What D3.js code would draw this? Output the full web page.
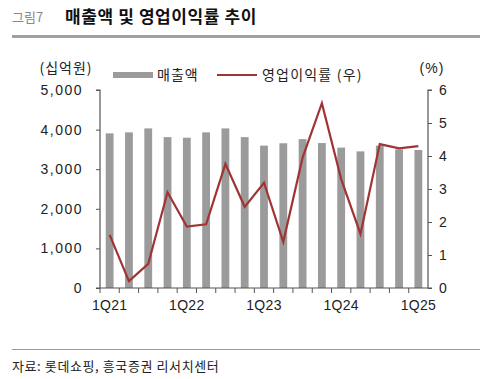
<!DOCTYPE html>
<html><head><meta charset="utf-8">
<script src="https://cdn.jsdelivr.net/npm/d3@7"></script>
<style>
html,body{margin:0;padding:0;background:#fff;}
svg{display:block;}
</style></head>
<body>
<script>
const categories = ["1Q21","2Q21","3Q21","4Q21","1Q22","2Q22","3Q22","4Q22","1Q23","2Q23","3Q23","4Q23","1Q24","2Q24","3Q24","4Q24","1Q25"];
const sales = [3905,3930,4030,3810,3795,3930,4030,3810,3595,3655,3760,3660,3545,3450,3595,3500,3485];
const opMargin = [1.61,0.21,0.73,2.90,1.86,1.93,3.76,2.46,3.19,1.40,3.95,5.60,3.30,1.64,4.36,4.23,4.30];
const leftTicks = [0,1000,2000,3000,4000,5000];
const rightTicks = [0,1,2,3,4,5,6];
const xLabels = ["1Q21","1Q22","1Q23","1Q24","1Q25"];

const W = 480, H = 379;
const svg = d3.select("body").append("svg").attr("width", W).attr("height", H);
const latin = "'Liberation Sans', Arial, sans-serif";
const kr = "'Noto Sans CJK KR', 'Noto Sans', sans-serif";

// Header
svg.append("text").attr("x", 12).attr("y", 22).attr("font-family", kr).attr("font-size", 13)
  .attr("fill", "#888").text("그림7");
svg.append("text").attr("x", 65).attr("y", 23).attr("font-family", kr).attr("font-size", 17)
  .attr("font-weight", "bold").attr("letter-spacing", 0.6).attr("fill", "#111").text("매출액 및 영업이익률 추이");
svg.append("rect").attr("x", 12).attr("y", 35).attr("width", 468).attr("height", 3).attr("fill", "#a0a0a0");

// Footer
svg.append("rect").attr("x", 12).attr("y", 349).attr("width", 468).attr("height", 1).attr("fill", "#999");
svg.append("text").attr("x", 12).attr("y", 371).attr("font-family", kr).attr("font-size", 13)
  .attr("letter-spacing", 0.6).attr("fill", "#222").text("자료: 롯데쇼핑, 흥국증권 리서치센터");

const x0 = 100, x1 = 428, yTop = 90, yBot = 288;
const xb = d3.scaleBand().domain(categories).range([x0, x1]);
const yL = d3.scaleLinear().domain([0, 5000]).range([yBot, yTop]);
const yR = d3.scaleLinear().domain([0, 6]).range([yBot, yTop]);

// bars
svg.append("g").selectAll("rect").data(categories).join("rect")
  .attr("x", (d) => xb(d) + xb.bandwidth()/2 - 3.9)
  .attr("width", 7.8)
  .attr("y", (d,i) => yL(sales[i]))
  .attr("height", (d,i) => yBot - yL(sales[i]))
  .attr("fill", "#9b9b9b");

// line
const line = d3.line().x((d,i) => xb(categories[i]) + xb.bandwidth()/2).y(d => yR(d));
svg.append("path").datum(opMargin).attr("d", line).attr("fill", "none")
  .attr("stroke", "#a03434").attr("stroke-width", 2.2).attr("stroke-linejoin", "miter");

const axisColor = "#555";
// left axis
const gL = svg.append("g").attr("transform", `translate(${x0},0)`)
  .call(d3.axisLeft(yL).tickValues(leftTicks).tickSize(4).tickPadding(13).tickFormat(d3.format(",")));
// right axis
const gR = svg.append("g").attr("transform", `translate(${x1},0)`)
  .call(d3.axisRight(yR).tickValues(rightTicks).tickSize(4).tickPadding(7).tickFormat(d3.format("d")));
// bottom axis
const boundaries = categories.map(c => xb(c));
const gB = svg.append("g").attr("transform", `translate(0,${yBot})`);
gB.append("line").attr("x1", x0).attr("x2", x1).attr("y1", 0).attr("y2", 0).attr("stroke", axisColor).attr("stroke-width", 1.2);
gB.selectAll("line.t").data(boundaries).join("line").attr("class","t")
  .attr("x1", d => d).attr("x2", d => d).attr("y1", 0).attr("y2", 5).attr("stroke", axisColor);
gB.selectAll("text").data(xLabels).join("text")
  .attr("x", d => xb(d) + xb.bandwidth()/2).attr("y", 22).attr("text-anchor", "middle")
  .attr("font-family", latin).attr("font-size", 14).attr("letter-spacing", 0.3).attr("fill", "#222").text(d => d);

[gL, gR].forEach(g => {
  g.select(".domain").attr("stroke", axisColor).attr("stroke-width", 1.2);
  g.selectAll(".tick line").attr("stroke", axisColor);
  g.selectAll(".tick text").attr("font-family", latin).attr("font-size", 14).attr("fill", "#222");
});
gL.selectAll(".tick text").attr("letter-spacing", 1.5);
gL.select(".domain").attr("d", `M-4,${yTop}H0V${yBot}H-4`);
gR.select(".domain").attr("d", `M4,${yTop}H0V${yBot}H4`);

// axis titles
svg.append("text").attr("x", 66).attr("y", 73).attr("text-anchor", "middle").attr("font-family", kr)
  .attr("font-size", 14).attr("letter-spacing", 1).attr("fill", "#222").text("(십억원)");
svg.append("text").attr("x", 432).attr("y", 73).attr("text-anchor", "middle").attr("font-family", latin)
  .attr("font-size", 14).attr("letter-spacing", 1).attr("fill", "#222").text("(%)");

// legend
svg.append("rect").attr("x", 113).attr("y", 72).attr("width", 40).attr("height", 6).attr("fill", "#9b9b9b");
svg.append("text").attr("x", 157).attr("y", 80).attr("font-family", kr).attr("font-size", 14)
  .attr("letter-spacing", 1).attr("fill", "#222").text("매출액");
svg.append("line").attr("x1", 217).attr("x2", 257).attr("y1", 75).attr("y2", 75)
  .attr("stroke", "#a03434").attr("stroke-width", 2);
svg.append("text").attr("x", 262).attr("y", 80).attr("font-family", kr).attr("font-size", 14)
  .attr("letter-spacing", 1.2).attr("fill", "#222").text("영업이익률 (우)");
</script>
</body></html>
